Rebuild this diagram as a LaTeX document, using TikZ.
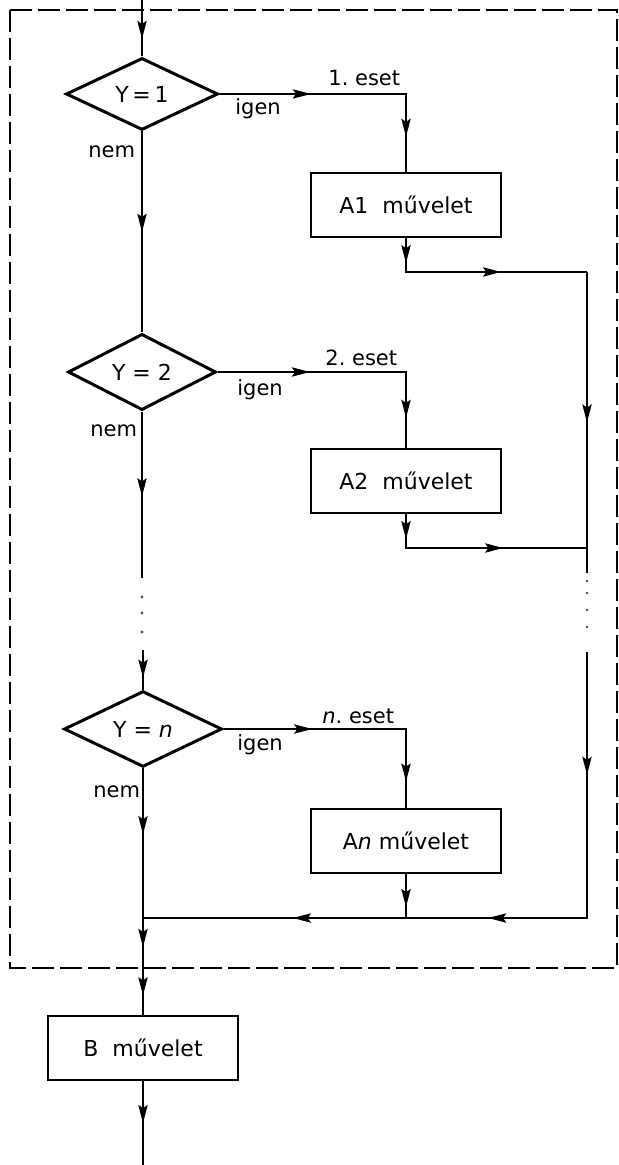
\documentclass[tikz,border=0pt]{standalone}
\usepackage{fontspec}
\setmainfont{DejaVu Sans}
\usetikzlibrary{shapes.geometric,arrows.meta,decorations.markings}
\begin{document}
\begin{tikzpicture}[x=0.5pt,y=-0.5pt,
  conn/.style={line width=1.1pt},
  dia/.style={draw,diamond,line width=1.5pt,inner sep=0pt,font=\fontsize{11}{13}\selectfont},
  box/.style={draw,rectangle,line width=1.3pt,minimum width=95pt,minimum height=32pt,inner sep=0pt,font=\fontsize{11}{13}\selectfont},
  lbl/.style={font=\fontsize{10.5}{12}\selectfont,inner sep=0pt,anchor=base west},
  mk/.style={postaction={decorate,decoration={markings,mark=at position #1 with {\arrow{Stealth[length=9pt,width=4.6pt,inset=1.5pt]}}}}},
  frame/.style={line width=1pt,dash pattern=on 11pt off 3pt},
  dot/.style={fill=black!70}
]
\useasboundingbox (0,0) rectangle (619,1165);
\draw[frame] (10,10) rectangle (617,968);

% decision nodes
\node[dia,minimum width=76pt,minimum height=36pt] (d1) at (142,94) {Y\,=\,1};
\node[dia,minimum width=74pt,minimum height=35pt] (d2) at (142,372) {Y = 2};
\node[dia,minimum width=79pt,minimum height=36pt] (dn) at (143,729) {Y = \textit{n}};

% operation boxes
\node[box] (a1) at (406,205) {A1\ \ művelet};
\node[box] (a2) at (406,481) {A2\ \ művelet};
\node[box] (an) at (406,841) {A\textit{n} művelet};
\node[box] (b) at (143,1048) {B\ \ művelet};

% helper coordinates
\coordinate (top) at (142,0);
\coordinate (e1) at (406,94);
\coordinate (e2) at (406,372);
\coordinate (en) at (406,729);
\coordinate (o1) at (406,272);
\coordinate (r1) at (587,272);
\coordinate (o2) at (406,548);
\coordinate (r2) at (587,548);
\coordinate (r2e) at (587,573);
\coordinate (r3) at (587,652);
\coordinate (r4) at (587,918);
\coordinate (jn) at (406,918);
\coordinate (m2e) at (142,578);
\coordinate (m3) at (143,650);
\coordinate (jm) at (143,918);
\coordinate (bot) at (143,1165);

% main line
\draw[conn,mk=0.69] (top) -- (d1.north);
\draw[conn,mk=0.5] (d1.south) -- (d2.north);
\draw[conn,mk=0.51] (d2.south) -- (m2e);
\foreach \yy in {597,613,632} \fill[dot] (142,\yy) circle (1.6);
\draw[conn,mk=0.7] (m3) -- (dn.north);
\draw[conn,mk=0.44] (dn.south) -- (jm);
\draw[conn,mk=0.3,mk=0.8] (jm) -- (b.north);
\draw[conn,mk=0.5] (b.south) -- (bot);

% yes branches
\draw[conn,mk=0.346,mk=0.868] (d1.east) -- (e1) -- (a1.north);
\draw[conn,mk=0.35,mk=0.887] (d2.east) -- (e2) -- (a2.north);
\draw[conn,mk=0.34,mk=0.90] (dn.east) -- (en) -- (an.north);

% outputs to collector
\draw[conn,mk=0.116,mk=0.60] (a1.south) -- (o1) -- (r1);
\draw[conn,mk=0.116,mk=0.61] (a2.south) -- (o2) -- (r2);
\draw[conn,mk=0.5] (r1) -- (r2e);
\foreach \yy in {581,593,610,627} \fill[dot] (587,\yy) circle (1.4);
\draw[conn,mk=0.173,mk=0.514,mk=0.789] (r3) -- (r4) -- (jm);
\draw[conn,mk=0.75] (an.south) -- (jn);

% labels
\node[lbl] (c1) at (328,86) {1.\ eset};
\node[lbl] (g1) at (235,115) {igen};
\node[lbl] (n1) at (88,158) {nem};
\node[lbl] (c2) at (325,366) {2.\ eset};
\node[lbl] (g2) at (237,395) {igen};
\node[lbl] (n2) at (90,437) {nem};
\node[lbl] (c3) at (322,723) {\textit{n}.\ eset};
\node[lbl] (g3) at (237,750) {igen};
\node[lbl] (n3) at (93,797) {nem};
\end{tikzpicture}
\end{document}
